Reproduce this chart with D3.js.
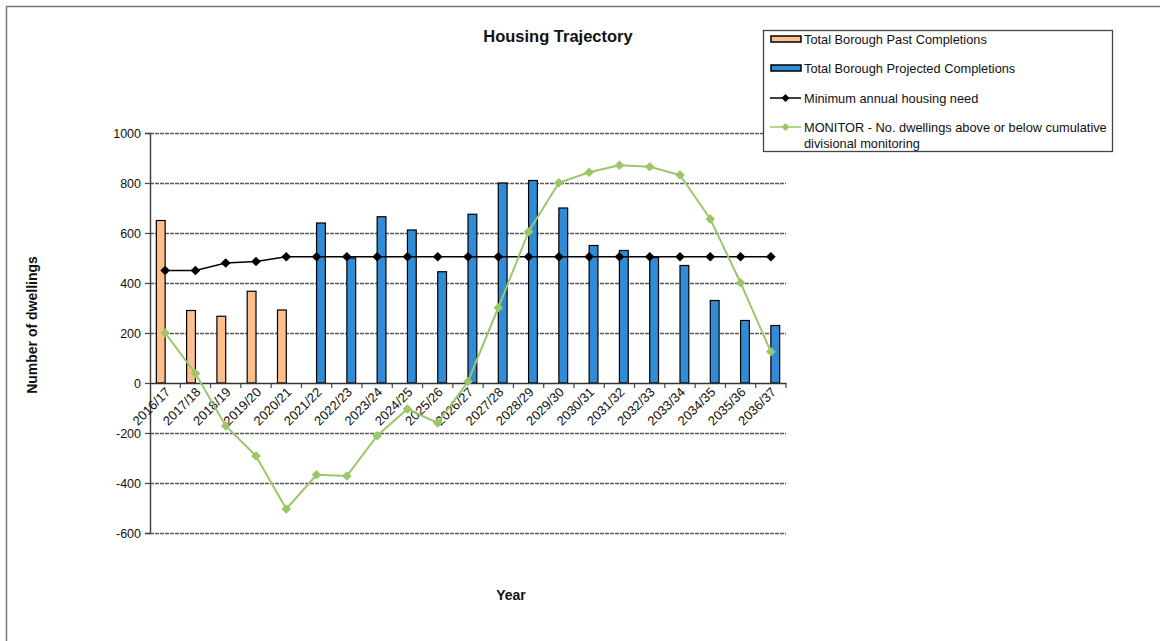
<!DOCTYPE html>
<html>
<head>
<meta charset="utf-8">
<script src="https://cdn.jsdelivr.net/npm/d3@7"></script>
<style>
  html, body { margin: 0; padding: 0; background: #fff; }
  svg { display: block; font-family: "Liberation Sans", Arial, sans-serif; }
</style>
</head>
<body>
<svg id="chart" width="1160" height="641"></svg>
<script>
const categories = ["2016/17","2017/18","2018/19","2019/20","2020/21","2021/22","2022/23","2023/24","2024/25","2025/26","2026/27","2027/28","2028/29","2029/30","2030/31","2031/32","2032/33","2033/34","2034/35","2035/36","2036/37"];
const pastCompletions = [650, 290, 267, 367, 292, null, null, null, null, null, null, null, null, null, null, null, null, null, null, null, null];
const projectedCompletions = [null, null, null, null, null, 640, 500, 665, 612, 445, 675, 800, 810, 700, 550, 530, 502, 470, 330, 250, 230];
const minimumNeed = [450, 450, 480, 486, 505, 505, 505, 505, 505, 505, 505, 505, 505, 505, 505, 505, 505, 505, 505, 505, 505];
const monitor = [200, 38, -172, -292, -504, -367, -372, -211, -104, -160, 6, 301, 605, 801, 843, 871, 865, 832, 656, 401, 125];
const yTicks = [1000, 800, 600, 400, 200, 0, -200, -400, -600];
const legendLabels = ["Total Borough Past Completions", "Total Borough Projected Completions", "Minimum annual housing need", "MONITOR - No. dwellings above or below cumulative", "divisional monitoring"];

const colors = { past: "#ffbf8c", projected: "#308cd6", need: "#000000", monitor: "#9bc66a", grid: "#5a5a5a" };

const svg = d3.select("#chart");

// page border (top and left)
svg.append("line").attr("x1", 6).attr("x2", 1160).attr("y1", 6.5).attr("y2", 6.5).attr("stroke", "#777").attr("stroke-width", 1.5);
svg.append("line").attr("x1", 6.5).attr("x2", 6.5).attr("y1", 6).attr("y2", 641).attr("stroke", "#777").attr("stroke-width", 1.5);

const plot = { left: 150, right: 786, top: 133, bottom: 533 };

const x = d3.scaleBand().domain(categories).range([plot.left, plot.right]).padding(0);
const y = d3.scaleLinear().domain([-600, 1000]).range([plot.bottom, plot.top]);

const barW = 8.8;

// gridlines
svg.append("g").selectAll("line").data(yTicks.filter(d => d !== 0)).join("line")
  .attr("x1", plot.left).attr("x2", plot.right)
  .attr("y1", d => Math.round(y(d)) + 0.5).attr("y2", d => Math.round(y(d)) + 0.5)
  .attr("stroke", colors.grid).attr("stroke-width", 1.5).attr("stroke-dasharray", "4,1");

// y axis
const yAxis = d3.axisLeft(y).tickValues(yTicks).tickSize(5).tickPadding(4).tickFormat(d => String(d));
const gy = svg.append("g").attr("transform", `translate(${plot.left},0)`).call(yAxis);
gy.select(".domain").attr("stroke", "#444").attr("stroke-width", 1.5);
gy.selectAll(".tick line").attr("stroke", "#444").attr("stroke-width", 1.2);
gy.selectAll(".tick text").attr("font-size", 12.5).attr("fill", "#111").attr("font-family", "Liberation Sans, Arial, sans-serif");

// bars
const barsG = svg.append("g");
barsG.selectAll("rect.past").data(categories.map((c, i) => ({ c, v: pastCompletions[i] })).filter(d => d.v != null)).join("rect")
  .attr("class", "past")
  .attr("x", d => x(d.c) + x.bandwidth() / 2 - barW)
  .attr("width", barW)
  .attr("y", d => y(d.v)).attr("height", d => y(0) - y(d.v))
  .attr("fill", colors.past).attr("stroke", "#000").attr("stroke-width", 1.2);
barsG.selectAll("rect.proj").data(categories.map((c, i) => ({ c, v: projectedCompletions[i] })).filter(d => d.v != null)).join("rect")
  .attr("class", "proj")
  .attr("x", d => x(d.c) + x.bandwidth() / 2)
  .attr("width", barW)
  .attr("y", d => y(d.v)).attr("height", d => y(0) - y(d.v))
  .attr("fill", colors.projected).attr("stroke", "#000").attr("stroke-width", 1.2);

// x axis at zero
const xAxis = d3.axisBottom(x).tickSize(0).tickPadding(0);
const gx = svg.append("g").attr("transform", `translate(0,${y(0)})`).call(xAxis);
gx.select(".domain").attr("stroke", "#333").attr("stroke-width", 1.6);
gx.selectAll(".tick text")
  .attr("font-size", 13).attr("fill", "#111").attr("font-family", "Liberation Sans, Arial, sans-serif")
  .attr("text-anchor", "end")
  .attr("dy", "0")
  .attr("transform", "translate(6,10) rotate(-45)");
// category boundary ticks
svg.append("g").selectAll("line").data(categories.slice(1).concat(["__end"])).join("line")
  .attr("x1", d => d === "__end" ? plot.right : x(d)).attr("x2", d => d === "__end" ? plot.right : x(d))
  .attr("y1", y(0)).attr("y2", y(0) + 5)
  .attr("stroke", "#444").attr("stroke-width", 1.2);

const cx = c => x(c) + x.bandwidth() / 2;
const diamond = d3.symbol().type(d3.symbolDiamond2);

// Minimum need line
svg.append("path").datum(minimumNeed)
  .attr("d", d3.line().x((d, i) => cx(categories[i])).y(d => y(d)))
  .attr("fill", "none").attr("stroke", colors.need).attr("stroke-width", 1.6);
svg.append("g").selectAll("path").data(minimumNeed).join("path")
  .attr("d", diamond.size(60)())
  .attr("transform", (d, i) => `translate(${cx(categories[i])},${y(d)})`)
  .attr("fill", colors.need);

// Monitor line
svg.append("path").datum(monitor)
  .attr("d", d3.line().x((d, i) => cx(categories[i])).y(d => y(d)))
  .attr("fill", "none").attr("stroke", colors.monitor).attr("stroke-width", 2);
svg.append("g").selectAll("path").data(monitor).join("path")
  .attr("d", diamond.size(60)())
  .attr("transform", (d, i) => `translate(${cx(categories[i])},${y(d)})`)
  .attr("fill", colors.monitor);

// titles
svg.append("text").attr("x", 558).attr("y", 42).attr("text-anchor", "middle")
  .attr("font-size", 16.5).attr("font-weight", "bold").attr("fill", "#111").text("Housing Trajectory");
svg.append("text").attr("transform", "translate(37,325) rotate(-90)").attr("text-anchor", "middle")
  .attr("font-size", 14).attr("font-weight", "bold").attr("fill", "#111").text("Number of dwellings");
svg.append("text").attr("x", 511).attr("y", 600).attr("text-anchor", "middle")
  .attr("font-size", 14).attr("font-weight", "bold").attr("fill", "#111").text("Year");

// legend
const lg = svg.append("g");
lg.append("rect").attr("x", 763.5).attr("y", 30.5).attr("width", 349).attr("height", 121)
  .attr("fill", "#fff").attr("stroke", "#444").attr("stroke-width", 1.3);
const rowY = [39, 68, 98, 127];
lg.append("rect").attr("x", 771).attr("y", rowY[0] - 3).attr("width", 30).attr("height", 6)
  .attr("fill", colors.past).attr("stroke", "#000").attr("stroke-width", 1.5);
lg.append("rect").attr("x", 771).attr("y", rowY[1] - 3).attr("width", 30).attr("height", 6)
  .attr("fill", colors.projected).attr("stroke", "#000").attr("stroke-width", 1.5);
lg.append("line").attr("x1", 770).attr("x2", 801).attr("y1", rowY[2]).attr("y2", rowY[2]).attr("stroke", colors.need).attr("stroke-width", 1.5);
lg.append("path").attr("d", diamond.size(40)()).attr("transform", `translate(785.5,${rowY[2]})`).attr("fill", colors.need);
lg.append("line").attr("x1", 770).attr("x2", 801).attr("y1", rowY[3]).attr("y2", rowY[3]).attr("stroke", colors.monitor).attr("stroke-width", 1.5);
lg.append("path").attr("d", diamond.size(40)()).attr("transform", `translate(785.5,${rowY[3]})`).attr("fill", colors.monitor);
const textY = [rowY[0], rowY[1], rowY[2], rowY[3], rowY[3] + 16];
lg.selectAll("text").data(legendLabels).join("text")
  .attr("x", 804).attr("y", (d, i) => textY[i] + 4.5)
  .attr("font-size", 12.8).attr("fill", "#111").text(d => d);
</script>
</body>
</html>
